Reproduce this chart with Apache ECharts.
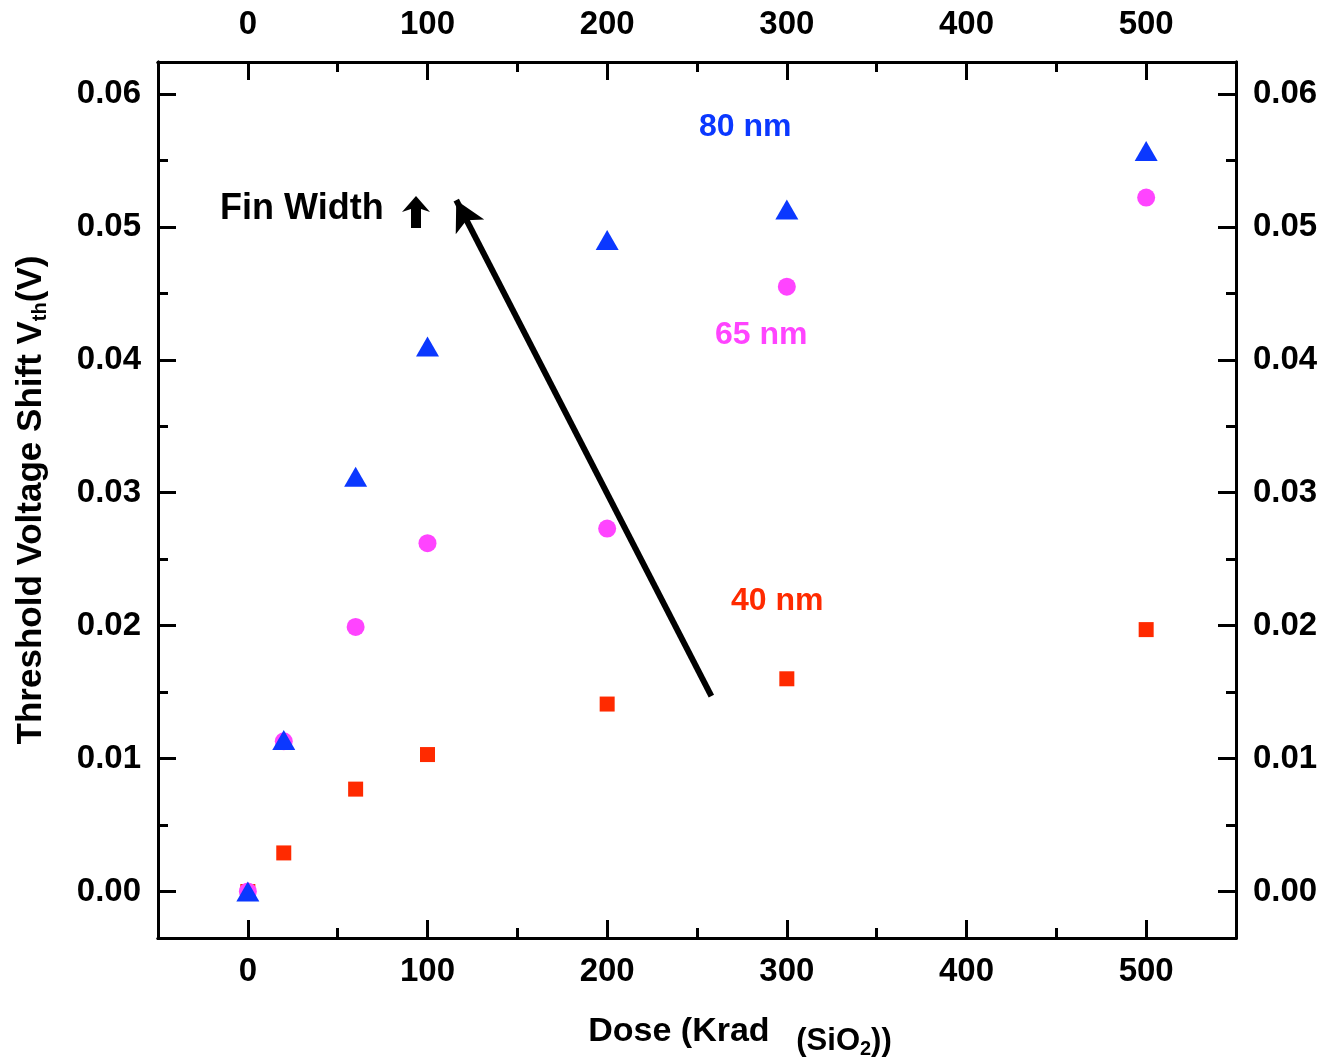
<!DOCTYPE html>
<html><head><meta charset="utf-8">
<script src="https://cdn.jsdelivr.net/npm/echarts@6/dist/echarts.min.js"></script>
<style>html,body{margin:0;padding:0;background:#fff}#c{width:1326px;height:1058px}</style>
</head><body><div id="c"></div>
<script>
const doses = [0, 20, 60, 100, 200, 300, 500];
const vth80 = [0, 0.0114, 0.0312, 0.0410, 0.0490, 0.0513, 0.0557];
const vth65 = [0, 0.0113, 0.0199, 0.0262, 0.0273, 0.0455, 0.0522];
const vth40 = [0, 0.0029, 0.0077, 0.0103, 0.0141, 0.0160, 0.0197];
const xMajor = [0, 100, 200, 300, 400, 500];
const xMinor = [50, 150, 250, 350, 450];
const yMajor = [0, 0.01, 0.02, 0.03, 0.04, 0.05, 0.06];
const yMinor = [0.005, 0.015, 0.025, 0.035, 0.045, 0.055];
const arrowFrom = [258, 0.0147];
const arrowTo = [116, 0.0520];

const FONT = 'Liberation Sans, Arial, sans-serif';
const pairs = a => doses.map((d, i) => [d, a[i]]);
const lbl = {fontFamily: FONT, fontWeight: 'bold', fontSize: 33, color: '#000'};
const line = {show: true, onZero: false, lineStyle: {color: '#000', width: 3}};

function xAx(pos, major, showName) {
  const base = {type: 'value', position: pos, min: -50, max: 550, splitLine: {show: false}, axisLine: line};
  if (major) return Object.assign(base, {
    axisTick: {show: true, inside: true, length: 18, lineStyle: {width: 3, color: '#000'}, customValues: xMajor},
    axisLabel: Object.assign({show: true, margin: pos === 'top' ? 21 : 17, customValues: xMajor}, lbl),
    name: showName ? '{a|Dose (Krad }{b|  (SiO}{c|2}{b|))}' : '',
    nameLocation: 'middle', nameGap: 67,
    nameTextStyle: {padding: [0, 0, 0, 86], rich: {
      a: {fontFamily: FONT, fontWeight: 'bold', fontSize: 34, color: '#000'},
      b: {fontFamily: FONT, fontWeight: 'bold', fontSize: 31, color: '#000', padding: [18, 0, 0, 0]},
      c: {fontFamily: FONT, fontWeight: 'bold', fontSize: 20, color: '#000', padding: [34, 0, 0, 0]}
    }}
  });
  return Object.assign(base, {
    axisTick: {show: true, inside: true, length: 10, lineStyle: {width: 3, color: '#000'}, customValues: xMinor},
    axisLabel: {show: false}
  });
}
function yAx(pos, major, showName) {
  const base = {type: 'value', position: pos, min: -0.0035, max: 0.0624, splitLine: {show: false}, axisLine: line};
  if (major) return Object.assign(base, {
    axisTick: {show: true, inside: true, length: 18, lineStyle: {width: 3, color: '#000'}, customValues: yMajor},
    axisLabel: Object.assign({show: true, margin: 17, customValues: yMajor, formatter: v => v.toFixed(2)}, lbl),
    name: showName ? '{a|Threshold Voltage Shift V}{s|th}{a|(V)}' : '',
    nameLocation: 'middle', nameGap: 108, nameRotate: 90,
    nameTextStyle: {rich: {
      a: {fontFamily: FONT, fontWeight: 'bold', fontSize: 35, color: '#000'},
      s: {fontFamily: FONT, fontWeight: 'bold', fontSize: 20, color: '#000', padding: [18, 0, 0, 0]}
    }}
  });
  return Object.assign(base, {
    axisTick: {show: true, inside: true, length: 10, lineStyle: {width: 3, color: '#000'}, customValues: yMinor},
    axisLabel: {show: false}
  });
}

const chart = echarts.init(document.getElementById('c'), null, {renderer: 'canvas'});
chart.setOption({
  animation: false,
  backgroundColor: '#fff',
  grid: {left: 158, right: 90, top: 62, bottom: 120, containLabel: false, outerBoundsMode: 'none'},
  xAxis: [xAx('bottom', true, true), xAx('bottom', false), xAx('top', true), xAx('top', false)],
  yAxis: [yAx('left', true, true), yAx('left', false), yAx('right', true), yAx('right', false)],
  series: [
    {type: 'scatter', data: pairs(vth40), symbol: 'rect', symbolSize: 15, itemStyle: {color: '#FF2A00', opacity: 1}, z: 3},
    {type: 'scatter', data: pairs(vth65), symbol: 'circle', symbolSize: 18, itemStyle: {color: '#FF44FF', opacity: 1}, z: 4},
    {type: 'scatter', data: pairs(vth80), symbol: 'triangle', symbolSize: [23, 20], itemStyle: {color: '#0B38FF', opacity: 1}, z: 5,
      markLine: {silent: true, animation: false, symbol: ['none', 'arrow'], symbolSize: [24, 30],
        lineStyle: {color: '#000', width: 6, type: 'solid'}, label: {show: false},
        data: [[{coord: arrowFrom}, {coord: arrowTo}]]}}
  ],
  graphic: [
    {type: 'text', left: 699, top: 111, style: {text: '80 nm', font: 'bold 32px ' + FONT, fill: '#0B38FF'}},
    {type: 'text', left: 715, top: 319, style: {text: '65 nm', font: 'bold 32px ' + FONT, fill: '#FF44FF'}},
    {type: 'text', left: 731, top: 585, style: {text: '40 nm', font: 'bold 32px ' + FONT, fill: '#FF2A00'}},
    {type: 'text', left: 220, top: 191, style: {text: 'Fin Width', font: 'bold 36px ' + FONT, fill: '#000'}},
    {type: 'polygon', shape: {points: [[416, 196], [430, 212], [421, 209], [421, 228], [411, 228], [411, 209], [402, 212]]}, style: {fill: '#000'}}
  ]
});
</script></body></html>
